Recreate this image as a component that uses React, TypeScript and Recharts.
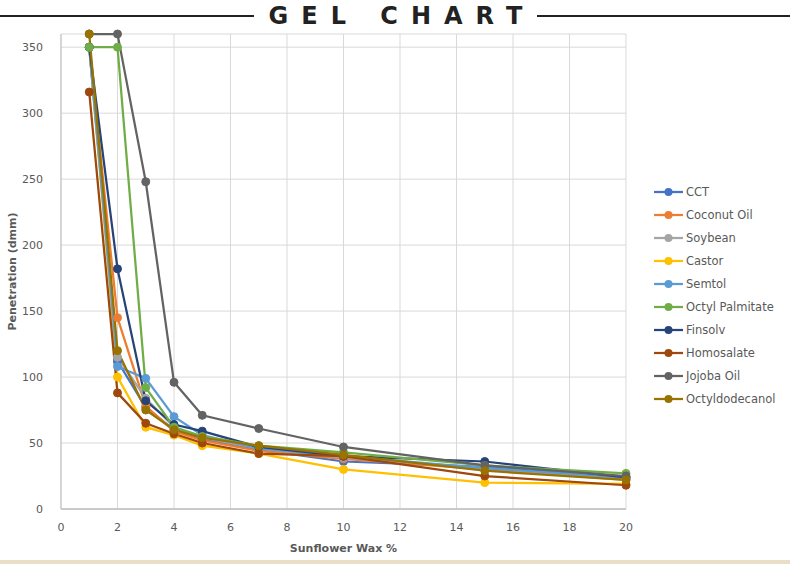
import React from "react";
import { LineChart, Line, XAxis, YAxis, CartesianGrid, Label } from "recharts";

const xValues = [1, 2, 3, 4, 5, 7, 10, 15, 20];
const seriesNames = ["CCT", "Coconut Oil", "Soybean", "Castor", "Semtol", "Octyl Palmitate", "Finsolv", "Homosalate", "Jojoba Oil", "Octyldodecanol"];
const seriesColors = ["#4472C4", "#ED7D31", "#A5A5A5", "#FFC000", "#5B9BD5", "#70AD47", "#264478", "#9E480E", "#636363", "#997300"];
const drawOrder = [0, 1, 2, 3, 4, 6, 5, 7, 8, 9];

const cct = [350, 112, 77, 60, 53, 45, 36, 32, 23];
const coconutOil = [350, 145, 78, 59, 52, 44, 38, 30, 22];
const soybean = [350, 115, 84, 62, 54, 46, 39, 31, 23];
const castor = [350, 100, 62, 56, 48, 42, 30, 20, 19];
const semtol = [350, 108, 99, 70, 56, 46, 40, 31, 24];
const octylPalmitate = [350, 350, 92, 62, 55, 48, 43, 33, 27];
const finsolv = [350, 182, 82, 64, 59, 47, 40, 36, 24];
const homosalate = [316, 88, 65, 57, 50, 42, 40, 25, 18];
const jojobaOil = [360, 360, 248, 96, 71, 61, 47, 33, 25];
const octyldodecanol = [360, 120, 75, 60, 54, 48, 41, 29, 22];

const seriesValues = [cct, coconutOil, soybean, castor, semtol, octylPalmitate, finsolv, homosalate, jojobaOil, octyldodecanol];

const xTicks = [0, 2, 4, 6, 8, 10, 12, 14, 16, 18, 20];
const yTicks = [0, 50, 100, 150, 200, 250, 300, 350];

const data = xValues.map((x, i) => {
  const row: Record<string, number> = { x };
  seriesNames.forEach((n, s) => {
    row[n] = seriesValues[s][i];
  });
  return row;
});

const font = "'DejaVu Sans', sans-serif";
const textColor = "#595959";

const LegendContent = () => (
  <div style={{ fontFamily: font, fontSize: 11.5, color: textColor }}>
    {seriesNames.map((n, i) => (
      <div key={n} style={{ display: "flex", alignItems: "center", height: 23.1, whiteSpace: "nowrap" }}>
        <svg width={31} height={10} style={{ marginRight: 2 }}>
          <line x1={1} y1={5} x2={30} y2={5} stroke={seriesColors[i]} strokeWidth={2.25} />
          <circle cx={15.5} cy={5} r={4} fill={seriesColors[i]} />
        </svg>
        <span>{n}</span>
      </div>
    ))}
  </div>
);

export default function App() {
  return (
    <div style={{ position: "absolute", left: 0, top: 0, width: 790, height: 564, background: "#fff", overflow: "hidden" }}>
      <div style={{ position: "absolute", left: 0, top: 15, width: 254, height: 2, background: "#222" }} />
      <div style={{ position: "absolute", left: 537, top: 15, width: 253, height: 2, background: "#222" }} />
      <div
        style={{
          position: "absolute",
          left: 254,
          width: 283,
          top: 0,
          height: 32,
          lineHeight: "32px",
          textAlign: "center",
          fontFamily: font,
          fontWeight: "bold",
          fontSize: 24,
          letterSpacing: 13,
          paddingLeft: 13,
          boxSizing: "border-box",
          whiteSpace: "nowrap",
          color: "#222",
        }}
      >
        GEL CHART
      </div>
      <div style={{ position: "absolute", left: 0, top: 560, width: 790, height: 4, background: "#E9DFC6" }} />
      <div style={{ position: "absolute", left: 0, top: 0 }}>
        <LineChart width={790} height={564} data={data} margin={{ top: 34, right: 164, left: 0, bottom: 0 }}>
          <CartesianGrid stroke="#D9D9D9" strokeWidth={1} />
          <XAxis
            dataKey="x"
            type="number"
            domain={[0, 20]}
            ticks={xTicks}
            height={55}
            axisLine={{ stroke: "#BFBFBF", strokeWidth: 1.5 }}
            tickLine={false}
            tick={{ fill: textColor, fontSize: 11, fontFamily: font }}
            tickMargin={8}
          >
            <Label value="Sunflower Wax %" position="insideBottom" offset={12} style={{ fill: textColor, fontSize: 11, fontWeight: "bold", fontFamily: font }} />
          </XAxis>
          <YAxis
            type="number"
            domain={[0, 360]}
            ticks={yTicks}
            width={61}
            axisLine={{ stroke: "#BFBFBF", strokeWidth: 1 }}
            tickLine={false}
            tick={{ fill: textColor, fontSize: 11, fontFamily: font }}
            tickMargin={12}
          >
            <Label value="Penetration (dmm)" angle={-90} position="insideLeft" offset={12} style={{ fill: textColor, fontSize: 11, fontWeight: "bold", fontFamily: font, textAnchor: "middle" }} />
          </YAxis>
          {drawOrder.map((i) => {
            const n = seriesNames[i];
            return (
              <Line
                key={n}
                dataKey={n}
                stroke={seriesColors[i]}
                strokeWidth={2.25}
                dot={{ r: 4, fill: seriesColors[i], stroke: seriesColors[i], strokeWidth: 1 }}
                activeDot={false}
                isAnimationActive={false}
              />
            );
          })}
        </LineChart>
      </div>
      <div style={{ position: "absolute", left: 653, top: 180, width: 137 }}>
        <LegendContent />
      </div>
    </div>
  );
}
